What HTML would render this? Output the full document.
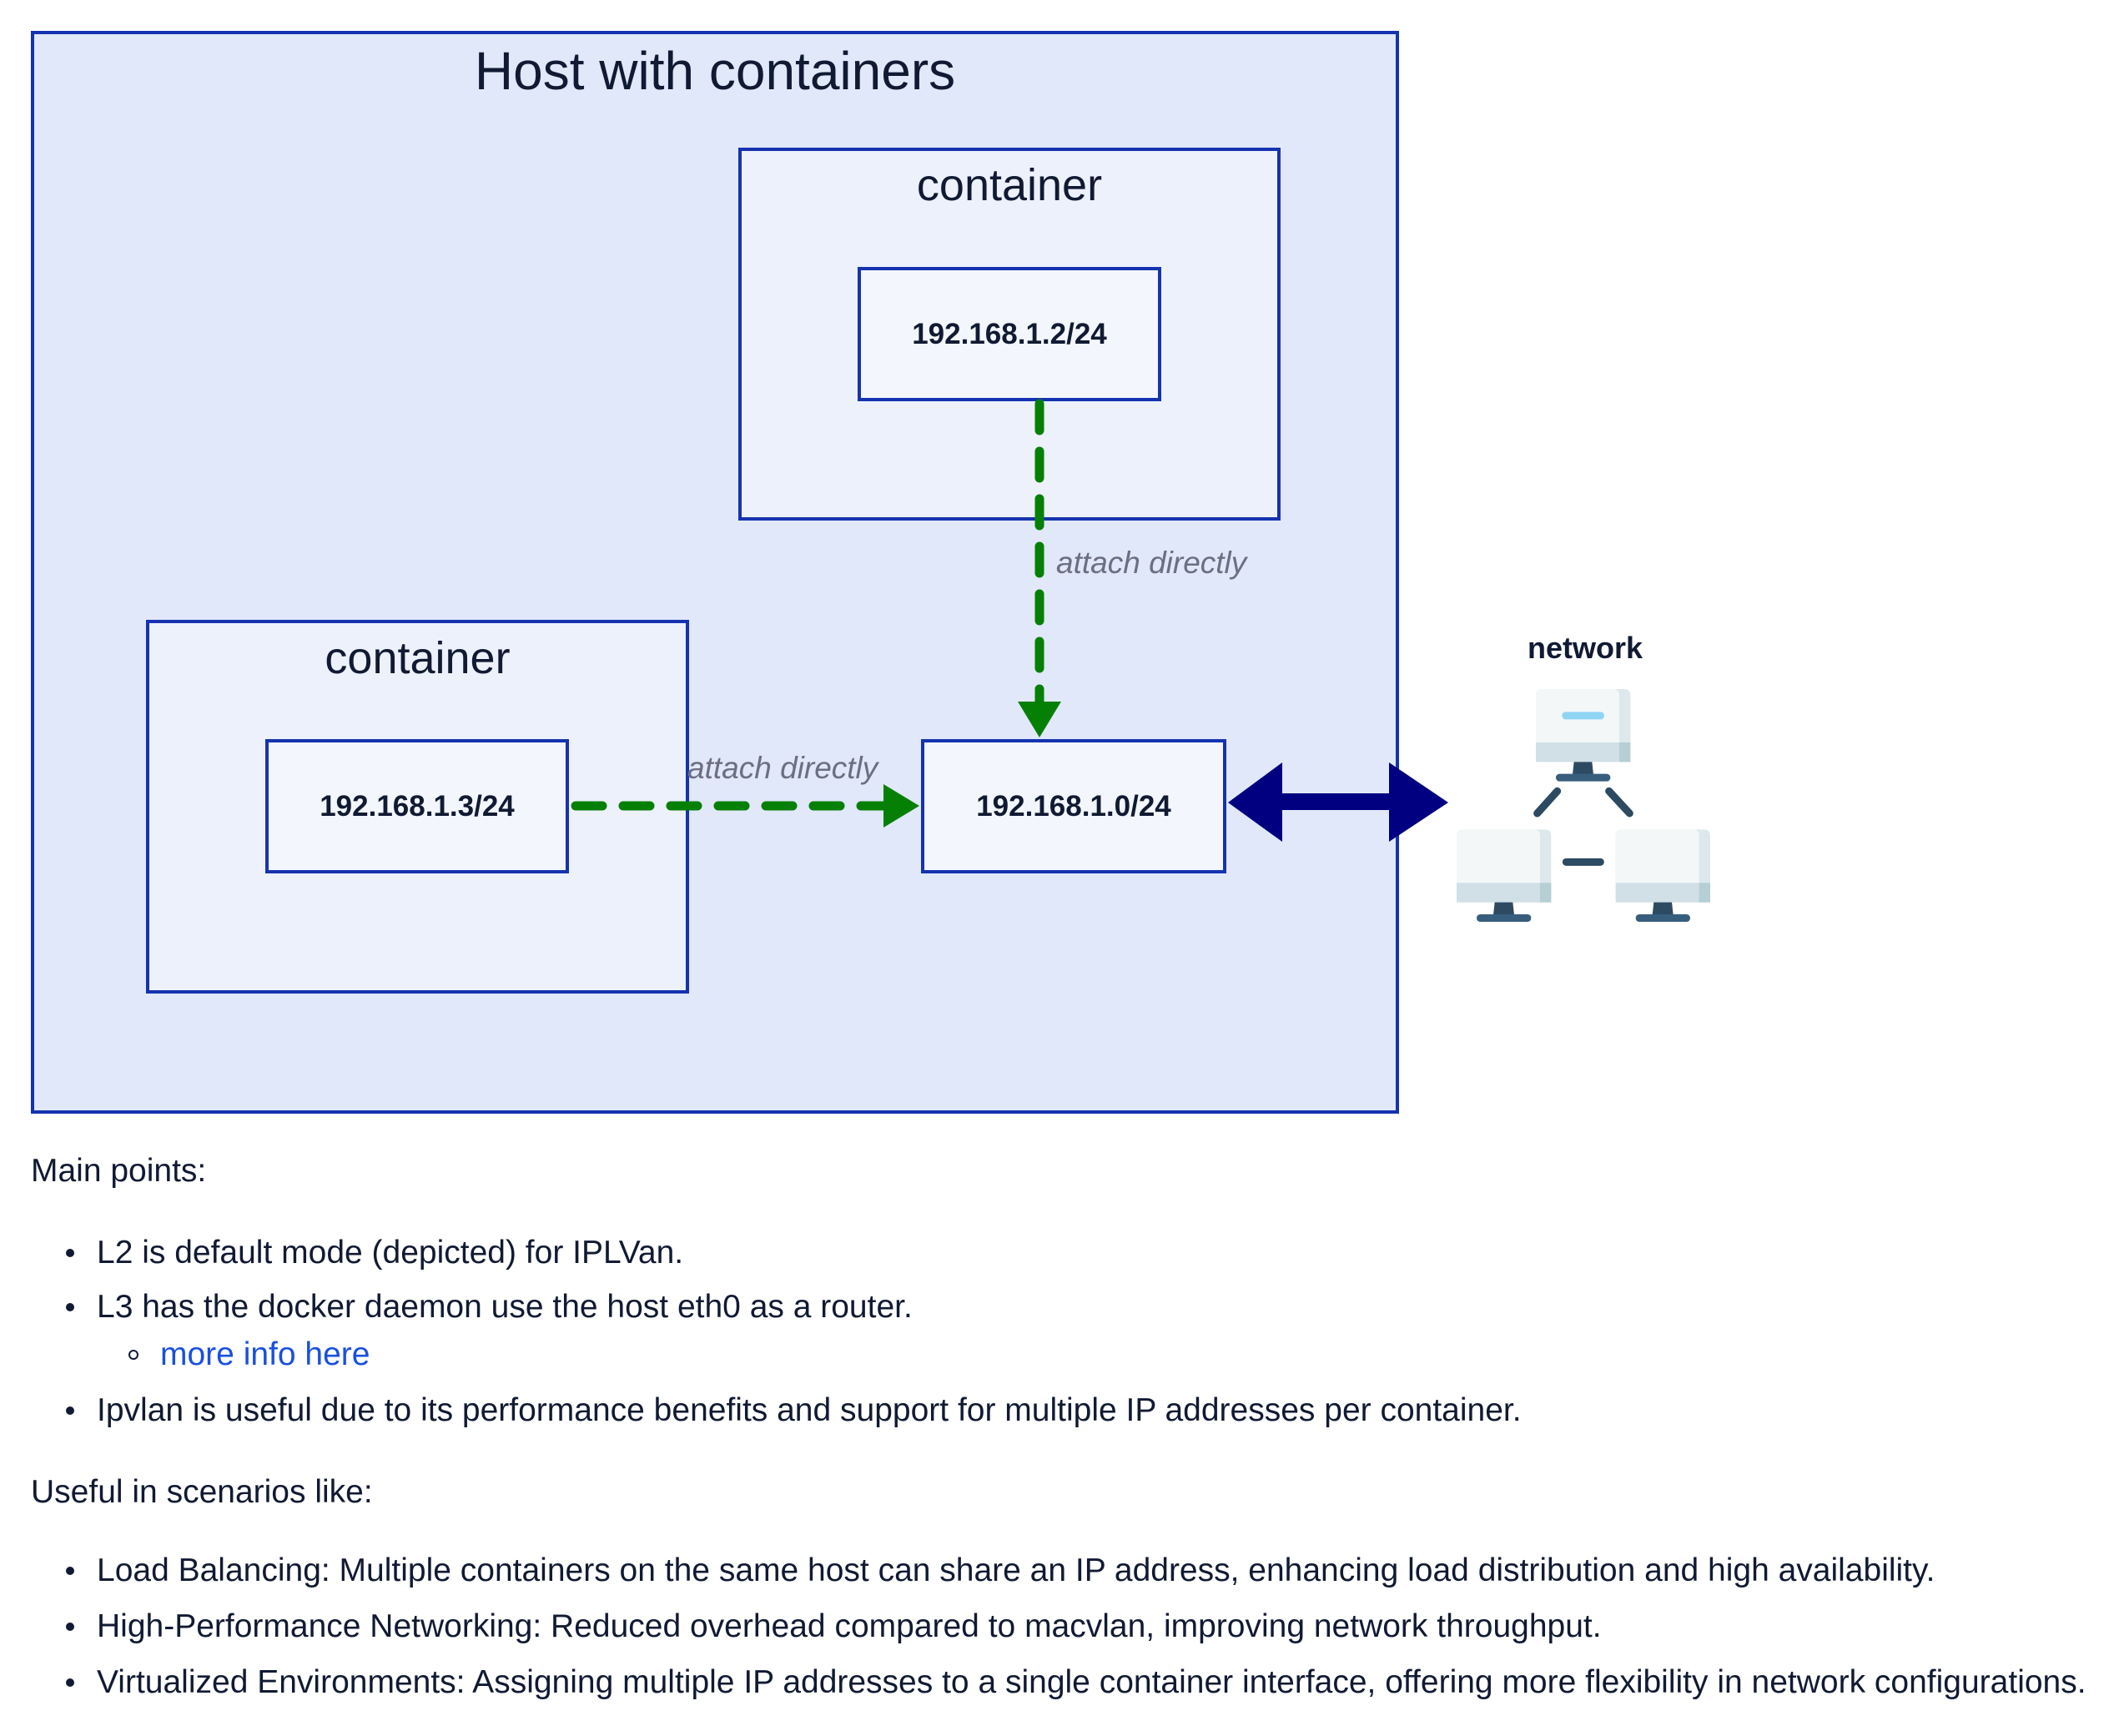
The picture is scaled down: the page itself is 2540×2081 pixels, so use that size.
<!DOCTYPE html>
<html><head><meta charset="utf-8"><style>
body{margin:0;width:2540px;height:2081px;background:#fff;position:relative;overflow:hidden;font-family:"Liberation Sans",sans-serif;color:#111a33}
.abs{position:absolute}
.box{position:absolute;border:4px solid #1533b0;box-sizing:border-box}
.ip{position:absolute;border:4px solid #1533b0;box-sizing:border-box;background:#f3f6fd;display:flex;align-items:center;justify-content:center;font-weight:bold;font-size:35px;color:#111a33}
.t{position:absolute;font-size:39px;white-space:nowrap;color:#111a33}
.dot{position:absolute;width:10px;height:10px;border-radius:50%;background:#111a33;margin-top:-8px}
#d{position:absolute;left:0;top:0;width:2540px;height:1400px;transform:translate(-6px,-4px)}
</style></head><body>
<div class="box" style="left:37px;top:37px;width:1640px;height:1298px;background:#e1e8fa"></div>
<div id="d">
<div class="abs" style="left:43px;top:52px;width:1640px;text-align:center;font-size:64px">Host with containers</div>
<div class="box" style="left:891px;top:181px;width:650px;height:447px;background:#edf1fc"></div>
<div class="abs" style="left:891px;top:195px;width:650px;text-align:center;font-size:54px">container</div>
<div class="box" style="left:181px;top:747px;width:651px;height:448px;background:#edf1fc"></div>
<div class="abs" style="left:181px;top:762px;width:651px;text-align:center;font-size:54px">container</div>
<div class="ip" style="left:1034px;top:324px;width:364px;height:161px">192.168.1.2/24</div>
<div class="ip" style="left:324px;top:890px;width:364px;height:161px">192.168.1.3/24</div>
<div class="ip" style="left:1110px;top:890px;width:366px;height:161px">192.168.1.0/24</div>
<svg class="abs" style="left:0;top:0" width="2540" height="1340">
<line x1="1252" y1="488" x2="1252" y2="845" stroke="#058005" stroke-width="11" stroke-dasharray="32,25" stroke-linecap="round"/>
<polygon points="1226,845 1278,845 1252,888" fill="#058005"/>
<line x1="696" y1="970" x2="1065" y2="970" stroke="#058005" stroke-width="11" stroke-dasharray="32,25" stroke-linecap="round"/>
<polygon points="1065,944 1065,996 1108,970" fill="#058005"/>
<polygon points="1478,966 1543,918 1543,955 1671,955 1671,918 1742,966 1671,1013 1671,975 1543,975 1543,1013" fill="#000080"/>
</svg>
<div class="abs" style="left:1272px;top:658px;font-size:37px;font-style:italic;color:#6b6f80">attach directly</div>
<div class="abs" style="left:830px;top:904px;font-size:37px;font-style:italic;color:#6b6f80">attach directly</div>
</div>
<div class="abs" style="left:1800px;top:756px;width:200px;text-align:center;font-size:36px;font-weight:bold">network</div>
<svg class="abs" style="left:1740px;top:740px" width="340" height="380" viewBox="0 0 1020 1140">
<g>
<rect x="303" y="258" width="340" height="262" rx="20" fill="#dde8ec"/>
<rect x="303" y="258" width="300" height="262" rx="20" fill="#f4f7f8"/>
<rect x="303" y="450" width="340" height="70" fill="#d0e0e6"/>
<rect x="603" y="450" width="40" height="70" fill="#b5cfd4"/>
<rect x="397" y="340" width="152" height="27" rx="13" fill="#8fd4f5"/>
<path d="M440 520 L505 520 L510 565 L435 565 Z" fill="#2d4a63"/>
<rect x="375" y="563" width="196" height="27" rx="13" fill="#385e7e"/>
</g>
<g transform="translate(-285,505)">
<rect x="303" y="258" width="340" height="262" rx="20" fill="#dde8ec"/>
<rect x="303" y="258" width="300" height="262" rx="20" fill="#f4f7f8"/>
<rect x="303" y="450" width="340" height="70" fill="#d0e0e6"/>
<rect x="603" y="450" width="40" height="70" fill="#b5cfd4"/>
<path d="M440 520 L505 520 L510 565 L435 565 Z" fill="#2d4a63"/>
<rect x="375" y="563" width="196" height="27" rx="13" fill="#385e7e"/>
</g>
<g transform="translate(287,505)">
<rect x="303" y="258" width="340" height="262" rx="20" fill="#dde8ec"/>
<rect x="303" y="258" width="300" height="262" rx="20" fill="#f4f7f8"/>
<rect x="303" y="450" width="340" height="70" fill="#d0e0e6"/>
<rect x="603" y="450" width="40" height="70" fill="#b5cfd4"/>
<path d="M440 520 L505 520 L510 565 L435 565 Z" fill="#2d4a63"/>
<rect x="375" y="563" width="196" height="27" rx="13" fill="#385e7e"/>
</g>
<g stroke="#2d4a63" stroke-width="27" stroke-linecap="round">
<line x1="380" y1="625" x2="308" y2="705"/>
<line x1="566" y1="625" x2="640" y2="705"/>
<line x1="412" y1="880" x2="535" y2="880"/>
</g>
</svg>
<div class="t" style="left:37px;top:1382px">Main points:</div>
<div class="dot" style="left:79px;top:1505px"></div><div class="t" style="left:116px;top:1480px">L2 is default mode (depicted) for IPLVan.</div>
<div class="dot" style="left:79px;top:1570px"></div><div class="t" style="left:116px;top:1545px">L3 has the docker daemon use the host eth0 as a router.</div>
<div class="abs" style="left:154px;top:1618px;width:8px;height:8px;border:2px solid #111a33;border-radius:50%"></div><div class="t" style="left:192px;top:1602px;color:#1a4fe0">more info here</div>
<div class="dot" style="left:79px;top:1694px"></div><div class="t" style="left:116px;top:1669px">Ipvlan is useful due to its performance benefits and support for multiple IP addresses per container.</div>
<div class="t" style="left:37px;top:1767px">Useful in scenarios like:</div>
<div class="dot" style="left:79px;top:1886px"></div><div class="t" style="left:116px;top:1861px">Load Balancing: Multiple containers on the same host can share an IP address, enhancing load distribution and high availability.</div>
<div class="dot" style="left:79px;top:1953px"></div><div class="t" style="left:116px;top:1928px">High-Performance Networking: Reduced overhead compared to macvlan, improving network throughput.</div>
<div class="dot" style="left:79px;top:2020px"></div><div class="t" style="left:116px;top:1995px">Virtualized Environments: Assigning multiple IP addresses to a single container interface, offering more flexibility in network configurations.</div>
</body></html>
